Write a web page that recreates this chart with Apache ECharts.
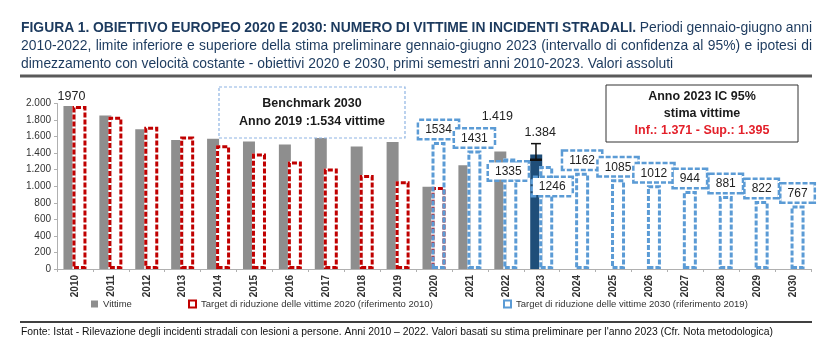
<!DOCTYPE html>
<html><head><meta charset="utf-8">
<script src="https://cdn.jsdelivr.net/npm/echarts@6/dist/echarts.min.js"></script>
<style>html,body{margin:0;padding:0;background:#fff}#c{width:836px;height:361px}</style>
</head><body><div id="c"></div>
<script>
// ---- data ----
const years = ['2010','2011','2012','2013','2014','2015','2016','2017','2018','2019','2020','2021','2022','2023','2024','2025','2026','2027','2028','2029','2030'];
const vittime = [1970,1855,1690,1560,1575,1540,1505,1615,1480,1534,995,1255,1419,1384,null,null,null,null,null,null,null];
const target2020 = [1970,1840,1720,1600,1495,1395,1300,1215,1135,1060,990,null,null,null,null,null,null,null,null,null,null];
const target2030 = [null,null,null,null,null,null,null,null,null,null,1534,1431,1335,1246,1162,1085,1012,944,881,822,767];
const errorBar2023 = [13, 1320, 1515]; // category index, low, high (as drawn)
const yTicks = [0,200,400,600,800,1000,1200,1400,1600,1800,2000];

const titleBold = 'FIGURA 1. OBIETTIVO EUROPEO 2020 E 2030: NUMERO DI VITTIME IN INCIDENTI STRADALI.';
const titleLine1Rest = 'Periodi gennaio-giugno anni';
const titleLine2 = '2010-2022, limite inferiore e superiore della stima preliminare gennaio-giugno 2023 (intervallo di confidenza al 95%) e ipotesi di';
const titleLine3 = 'dimezzamento con velocità costante - obiettivi 2020 e 2030, primi semestri anni 2010-2023. Valori assoluti';
const footer = "Fonte: Istat - Rilevazione degli incidenti stradali con lesioni a persone. Anni 2010 – 2022. Valori basati su stima preliminare per l'anno 2023 (Cfr. Nota metodologica)";
const nameV = 'Vittime';
const nameT20 = 'Target di riduzione delle vittime 2020 (riferimento 2010)';
const nameT30 = 'Target di riduzione delle vittime 2030 (riferimento 2019)';

// ---- helpers ----
const SANS = "'Liberation Sans',Arial,sans-serif";
const fmt = v => { const s = String(Math.round(v)); return s.length > 3 ? s.slice(0, s.length-3) + '.' + s.slice(-3) : s; };
const ctx = document.createElement('canvas').getContext('2d');
function measure(t, size, weight){ ctx.font = weight + ' ' + size + 'px ' + SANS; return ctx.measureText(t).width; }
const TITLE_COLOR = '#1c3a5e';
const TSIZE = 14.5;
const TSCALE = 619 / measure(titleBold, TSIZE, 'bold');
function wordsLine(words, x0, x1, y, justify){
  const widths = words.map(o => measure(o.t, TSIZE, o.w) * TSCALE);
  const sum = widths.reduce((a,b)=>a+b,0);
  const space = measure(' ', TSIZE, 'normal') * TSCALE;
  const gap = justify ? (x1 - x0 - sum) / (words.length - 1) : space;
  const els = []; let x = x0;
  words.forEach((o,i) => {
    els.push({type:'text', x:x, y:y, scaleX:TSCALE, silent:true,
      style:{text:o.t, fontSize:TSIZE, fontWeight:o.w, fontFamily:SANS, fill:TITLE_COLOR, verticalAlign:'middle', align:'left'}});
    x += widths[i] + gap;
  });
  return els;
}
function narrowText(text, x, y, size, targetW, color){
  const s = targetW / measure(text, size, 'normal');
  return {type:'text', x:x, y:y, scaleX:s, silent:true, style:{text:text, fontSize:size, fontFamily:SANS, fill:color, verticalAlign:'middle'}};
}
const l1 = titleBold.split(' ').map(t=>({t, w:'bold'})).concat(titleLine1Rest.split(' ').map(t=>({t, w:'normal'})));
const l2 = titleLine2.split(' ').map(t=>({t, w:'normal'}));
const l3 = titleLine3.split(' ').map(t=>({t, w:'normal'}));
function bText(t, x, y, color){ return {type:'text', x:x, y:y, z:21, style:{text:t, fontSize:12.5, fontWeight:'bold', fontFamily:SANS, fill:color, align:'center', verticalAlign:'middle'}}; }
const graphics = [].concat(
  wordsLine(l1, 21, 812, 28, true),
  wordsLine(l2, 21, 812, 46, true),
  wordsLine(l3, 21, 812, 64, false),
  [
    {type:'line', shape:{x1:20,y1:76,x2:812,y2:76}, style:{stroke:'#5a5a5a', lineWidth:3}, silent:true},
    {type:'line', shape:{x1:20,y1:322,x2:812,y2:322}, style:{stroke:'#404040', lineWidth:2}, silent:true},
    narrowText(footer, 21, 332, 11.5, 752, '#111'),
    // Benchmark box
    {type:'rect', shape:{x:219,y:87,width:186,height:51}, z:20, style:{fill:'#fff', stroke:'#8eb4e3', lineWidth:1.2, lineDash:[3,2]}},
    bText('Benchmark 2030', 312, 104, '#1a1a1a'),
    bText('Anno 2019 :1.534 vittime', 312, 122, '#1a1a1a'),
    // IC box
    {type:'rect', shape:{x:606,y:85,width:192,height:57}, z:20, style:{fill:'#fff', stroke:'#333', lineWidth:1}},
    bText('Anno 2023 IC 95%', 702, 97, '#1a1a1a'),
    bText('stima vittime', 702, 114, '#1a1a1a'),
    bText('Inf.: 1.371 - Sup.: 1.395', 702, 131, '#e3202a')
  ]
);

// labels for specific gray bars
const vLabelCfg = {0:{offset:[2,2]}, 12:{offset:[-3,-24]}, 13:{offset:[4,-10]}};
const vData = vittime.map((v,i) => {
  const item = {value:v};
  if (i === 13) item.itemStyle = {color:'#1f4e79'};
  if (vLabelCfg[i]) item.label = {show:true, position:'top', distance:5, offset:vLabelCfg[i].offset,
      formatter: i === 0 ? String(v) : fmt(v), fontSize:12.5, color:'#222', fontFamily:SANS};
  return item;
});
const t30LabelCfg = {12:{offset:[-2,25]}, 13:{offset:[6,33]}};
const t30Data = target2030.map((v,i) => {
  const item = {value:v};
  if (t30LabelCfg[i]) item.label = {offset:t30LabelCfg[i].offset};
  return item;
});
const nulls = years.map(()=>null);
const spacer = idx => ({name:'_spacer'+idx, type:'bar', xAxisIndex:idx, barWidth:12, barGap:'-25%', data:nulls, silent:true});
const hiddenAxis = {type:'category', data:years, show:false};
const outline = (name, axis, data, color, dashed, z) => ({name, type:'bar', xAxisIndex:axis, barWidth:14, barGap:'-25%', z, data, silent:!dashed,
  itemStyle:{color:'rgba(0,0,0,0)', borderColor:color, borderWidth:3, borderType: dashed ? [5,2] : 'solid'}});

const chart = echarts.init(document.getElementById('c'), null, {renderer:'canvas'});
const blue = outline(nameT30, 1, t30Data, '#5b9bd5', true, 6);
blue.label = {show:true, position:'top', distance:4, formatter:p => p.value == null ? '' : String(p.value),
  fontSize:12, color:'#222', fontFamily:SANS, backgroundColor:'#fff', borderColor:'#5b9bd5', borderWidth:2.5,
  borderType:[5,2], padding:[3,6,2,6]};
const legendText = {fontSize:9.5, color:'#333', fontFamily:SANS};
chart.setOption({
  animation:false,
  backgroundColor:'#fff',
  textStyle:{fontFamily:SANS},
  grid:{left:57, right:25, top:103.5, bottom:92, containLabel:false},
  xAxis:[
    {type:'category', data:years, axisLine:{lineStyle:{color:'#b0b0b0'}}, axisTick:{show:true, length:3, lineStyle:{color:'#b0b0b0'}},
     axisLabel:{rotate:90, fontSize:10, color:'#333', margin:6, fontFamily:SANS, fontWeight:'bold'}},
    hiddenAxis, hiddenAxis, hiddenAxis
  ],
  yAxis:{type:'value', min:yTicks[0], max:yTicks[yTicks.length-1], interval:200, splitLine:{show:false},
    axisLine:{show:true, lineStyle:{color:'#b0b0b0'}}, axisTick:{show:true, length:3, lineStyle:{color:'#b0b0b0'}},
    axisLabel:{formatter:fmt, fontSize:10, color:'#333', margin:6, fontFamily:SANS}},
  legend:[
    {left:91, top:299, padding:0, itemWidth:7, itemHeight:7, textStyle:legendText, icon:'rect',
     data:[{name:nameV, itemStyle:{color:'#8e8e8e', borderWidth:0}}]},
    {left:188, top:299, padding:0, itemWidth:7, itemHeight:7, textStyle:legendText, icon:'rect',
     data:[{name:nameT20, itemStyle:{color:'#fff', borderColor:'#c00000', borderWidth:2, borderType:'solid'}}]},
    {left:503, top:299, padding:0, itemWidth:7, itemHeight:7, textStyle:legendText, icon:'rect',
     data:[{name:nameT30, itemStyle:{color:'#fff', borderColor:'#5b9bd5', borderWidth:2, borderType:'solid'}}]}
  ],
  series:[
    {name:nameV, type:'bar', xAxisIndex:0, barWidth:12, barGap:'-25%', z:2, data:vData, itemStyle:{color:'#8e8e8e'}},
    outline(nameT20, 0, target2020, '#c00000', true, 5),
    spacer(1),
    blue,
    spacer(2),
    outline('_white20', 2, target2020, '#ffffff', false, 3),
    spacer(3),
    outline('_white30', 3, target2030, '#ffffff', false, 3),
    {name:'_err', type:'custom', xAxisIndex:0, z:8, data:[errorBar2023],
     renderItem:(params, api) => {
       const i = api.value(0);
       const top = api.coord([i, api.value(2)]);
       const bot = api.coord([i, api.value(1)]);
       const band = api.size([1,0])[0];
       const x = top[0] - band*0.16;
       return {type:'group', children:[
         {type:'line', shape:{x1:x, y1:top[1], x2:x, y2:bot[1]}, style:{stroke:'#111', lineWidth:1.5}},
         {type:'line', shape:{x1:x-5, y1:top[1], x2:x+5, y2:top[1]}, style:{stroke:'#111', lineWidth:1.5}},
         {type:'line', shape:{x1:x-6, y1:bot[1], x2:x+6, y2:bot[1]}, style:{stroke:'#111', lineWidth:2.5}}
       ]};
     }}
  ],
  graphic:graphics
});
</script></body></html>
